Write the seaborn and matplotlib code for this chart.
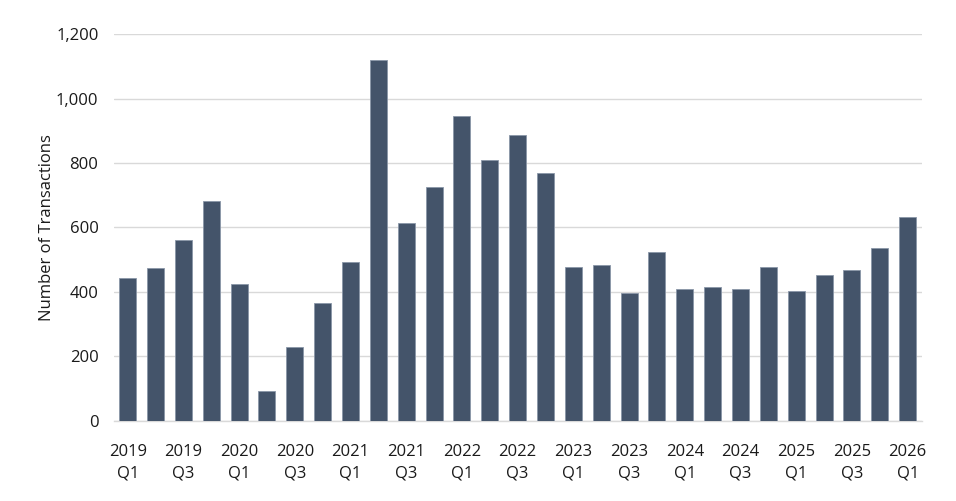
import matplotlib
matplotlib.use("Agg")
import matplotlib.pyplot as plt
import seaborn as sns
import pandas as pd
import numpy as np
from matplotlib.ticker import FuncFormatter

years = [2019] * 4 + [2020] * 4 + [2021] * 4 + [2022] * 4 + [2023] * 4 + [2024] * 4 + [2025] * 4 + [2026]
quarters = ["Q1", "Q2", "Q3", "Q4"] * 7 + ["Q1"]
transactions = [443, 473, 561, 681, 425, 93, 229, 366,
                492, 1118, 614, 725, 946, 808, 886, 768,
                477, 485, 397, 524, 409, 416, 409, 477,
                402, 453, 468, 537, 633]

df = pd.DataFrame({
    "period": [f"{y}\n{q}" for y, q in zip(years, quarters)],
    "transactions": transactions,
})

sns.set_style("white")
plt.rcParams["font.family"] = ["Open Sans", "DejaVu Sans"]

fig = plt.figure(figsize=(9.56, 5.01), dpi=100)
ax = fig.add_axes([0.119, 0.160, 0.845, 0.772])

sns.barplot(data=df, x="period", y="transactions", color="#44546A",
            saturation=1, width=0.61, edgecolor="#8A96A8", linewidth=0.6, ax=ax, zorder=3)

n = len(df)
ax.set_xlim(-0.5, n - 0.5)
ax.set_ylim(0, 1200)
ax.set_yticks(np.arange(0, 1201, 200))
ax.yaxis.set_major_formatter(FuncFormatter(lambda v, p: f"{int(v):,}"))
ax.grid(axis="y", color="#D9D9D9", linewidth=1, zorder=0)

# labels on Q1/Q3 only, boundary ticks between every bar
label_pos = list(range(0, n, 2))
ax.set_xticks(label_pos)
ax.set_xticklabels([df["period"][i] for i in label_pos], linespacing=1.45)
ax.set_xticks(np.arange(-0.5, n, 1), minor=True)
ax.tick_params(axis="x", which="major", length=0, pad=17, labelsize=12, colors="#1a1a1a")
ax.tick_params(axis="x", which="minor", length=5, color="#D9D9D9", width=1)
ax.tick_params(axis="y", length=0, pad=11, labelsize=12, colors="#1a1a1a")

for s in ["top", "right", "left"]:
    ax.spines[s].set_visible(False)
ax.spines["bottom"].set_color("#D9D9D9")
ax.spines["bottom"].set_linewidth(1)

ax.set_xlabel("")
ax.set_ylabel("Number of Transactions", fontsize=12, color="#1a1a1a", labelpad=1)

plt.savefig("out.png", dpi=100)
